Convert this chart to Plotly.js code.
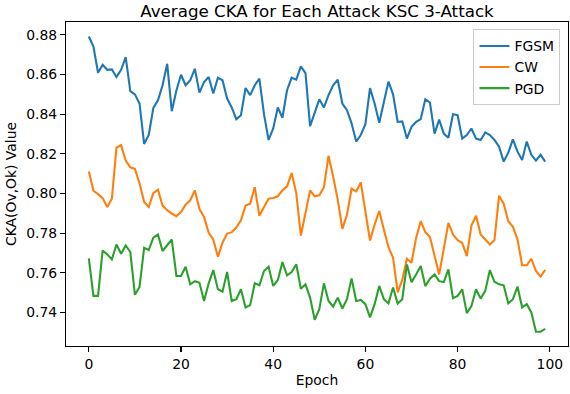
<!DOCTYPE html>
<html>
<head>
<meta charset="utf-8">
<script src="https://cdn.plot.ly/plotly-3.0.1.min.js"></script>
<style>html,body{margin:0;padding:0;background:#fff;}#chart{width:570px;height:394px;}</style>
</head>
<body>
<div id="chart"></div>
<script>
const fgsm = [0.8792,0.8741,0.8609,0.8649,0.8624,0.8626,0.8588,0.8624,0.8688,0.8516,
0.8500,0.8454,0.8250,0.8295,0.8432,0.8470,0.8546,0.8654,0.8415,0.8520,
0.8599,0.8546,0.8571,0.8629,0.8509,0.8562,0.8588,0.8504,0.8584,0.8571,
0.8479,0.8434,0.8375,0.8395,0.8532,0.8496,0.8546,0.8579,0.8400,0.8270,
0.8328,0.8434,0.8382,0.8521,0.8584,0.8574,0.8641,0.8607,0.8340,0.8407,
0.8475,0.8434,0.8496,0.8546,0.8574,0.8454,0.8420,0.8354,0.8262,0.8295,
0.8350,0.8532,0.8454,0.8357,0.8467,0.8564,0.8500,0.8361,0.8364,0.8277,
0.8336,0.8361,0.8375,0.8475,0.8459,0.8302,0.8373,0.8302,0.8281,0.8400,
0.8395,0.8277,0.8295,0.8328,0.8277,0.8270,0.8308,0.8295,0.8270,0.8236,
0.8161,0.8206,0.8273,0.8211,0.8169,0.8262,0.8195,0.8166,0.8195,0.8161];
const cw = [0.8111,0.8014,0.7997,0.7977,0.7932,0.7974,0.8231,0.8244,0.8166,0.8132,
0.8124,0.8052,0.7957,0.7932,0.8002,0.8019,0.7939,0.7916,0.7899,0.7886,
0.7906,0.7944,0.7966,0.8016,0.7922,0.7882,0.7802,0.7768,0.7681,0.7752,
0.7798,0.7805,0.7828,0.7865,0.7939,0.7949,0.8032,0.7888,0.7932,0.7974,
0.7977,0.7986,0.8016,0.8036,0.8103,0.8002,0.7788,0.7902,0.8016,0.7986,
0.7991,0.8032,0.8190,0.8086,0.7969,0.7822,0.7893,0.8024,0.8011,0.8056,
0.7910,0.7763,0.7843,0.7912,0.7818,0.7730,0.7676,0.7502,0.7564,0.7671,
0.7651,0.7776,0.7860,0.7805,0.7781,0.7688,0.7592,0.7721,0.7852,0.7793,
0.7765,0.7751,0.7684,0.7838,0.7888,0.7793,0.7768,0.7743,0.7765,0.7989,
0.7949,0.7860,0.7832,0.7768,0.7638,0.7638,0.7671,0.7610,0.7581,0.7615];
const pgd = [0.7673,0.7484,0.7484,0.7713,0.7693,0.7668,0.7743,0.7696,0.7738,0.7705,
0.7489,0.7529,0.7726,0.7715,0.7777,0.7793,0.7710,0.7738,0.7768,0.7584,
0.7584,0.7631,0.7542,0.7558,0.7550,0.7458,0.7547,0.7614,0.7517,0.7505,
0.7604,0.7458,0.7467,0.7517,0.7425,0.7437,0.7547,0.7537,0.7609,0.7631,
0.7534,0.7564,0.7654,0.7587,0.7604,0.7643,0.7520,0.7542,0.7475,0.7363,
0.7417,0.7547,0.7458,0.7430,0.7475,0.7420,0.7467,0.7572,0.7458,0.7463,
0.7442,0.7375,0.7442,0.7534,0.7467,0.7446,0.7526,0.7445,0.7467,0.7642,
0.7553,0.7592,0.7634,0.7533,0.7570,0.7592,0.7558,0.7553,0.7617,0.7472,
0.7484,0.7517,0.7397,0.7433,0.7517,0.7470,0.7509,0.7614,0.7555,0.7542,
0.7537,0.7446,0.7467,0.7531,0.7425,0.7442,0.7400,0.7303,0.7303,0.7317];
const seriesNames = ["FGSM", "CW", "PGD"];
const seriesColors = ["#1f77b4", "#ff7f0e", "#2ca02c"];
const xTicks = [0, 20, 40, 60, 80, 100];
const yTicks = [0.74, 0.76, 0.78, 0.80, 0.82, 0.84, 0.86, 0.88];
const yTickLabels = ["0.74", "0.76", "0.78", "0.80", "0.82", "0.84", "0.86", "0.88"];

const epochs = fgsm.map((_, i) => i);
const allSeries = [fgsm, cw, pgd];
const font = "DejaVu Sans, sans-serif";

const traces = allSeries.map((vals, k) => ({
  x: epochs, y: vals, type: "scatter", mode: "lines", name: seriesNames[k],
  line: {color: seriesColors[k], width: 2.1}
}));

const axisCommon = {
  showgrid: false, zeroline: false, showline: true, mirror: true,
  linecolor: "#000", linewidth: 1.1, ticks: "outside", ticklen: 5,
  tickwidth: 1.1, tickcolor: "#000",
  tickfont: {family: font, size: 13.9, color: "#000"}
};

const layout = {
  width: 570, height: 394,
  margin: {l: 66, r: 2, t: 22, b: 48},
  paper_bgcolor: "#fff", plot_bgcolor: "#fff",
  title: {text: "Average CKA for Each Attack KSC 3-Attack",
    font: {family: font, size: 16.7, color: "#000"},
    x: 0.5, xref: "paper", xanchor: "center", y: 1, yref: "paper", yanchor: "bottom",
    pad: {b: 5}},
  xaxis: Object.assign({}, axisCommon, {
    range: [-4.95, 103.95], tickvals: xTicks, ticktext: xTicks.map(String),
    title: {text: "Epoch", font: {family: font, size: 13.9, color: "#000"}, standoff: 4}
  }),
  yaxis: Object.assign({}, axisCommon, {
    range: [0.7231, 0.8865], tickvals: yTicks, ticktext: yTickLabels,
    title: {text: "CKA(Ov,Ok) Value", font: {family: font, size: 13.9, color: "#000"}, standoff: 6}
  }),
  showlegend: true,
  legend: {x: 0.985, y: 0.977, xanchor: "right", yanchor: "top",
    bgcolor: "rgba(255,255,255,0.8)", bordercolor: "#cccccc", borderwidth: 1,
    font: {family: font, size: 13.9, color: "#000"}, tracegroupgap: 0}
};

Plotly.newPlot("chart", traces, layout, {staticPlot: true, displayModeBar: false});
</script>
</body>
</html>
